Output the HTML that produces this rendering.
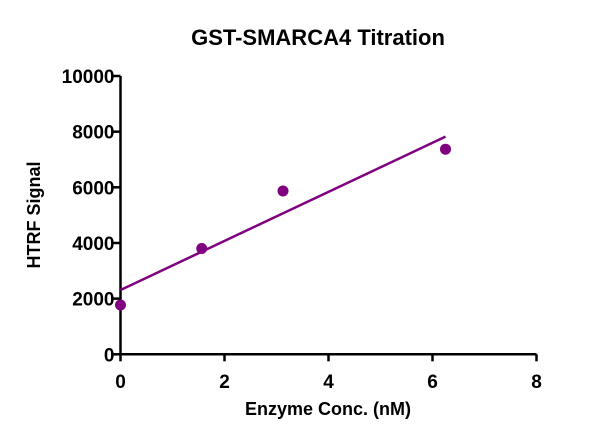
<!DOCTYPE html>
<html><head><meta charset="utf-8"><style>
body{margin:0;background:#fff}
svg text{font-family:"Liberation Sans",Arial,sans-serif;font-weight:bold;fill:#000}
</style></head><body>
<svg id="chart" width="600" height="440" viewBox="0 0 600 440">
<text x="318" y="45" font-size="22" text-anchor="middle">GST-SMARCA4 Titration</text>
<text x="0" y="0" font-size="18" text-anchor="middle" transform="translate(40 215) rotate(-90)">HTRF Signal</text>
<text x="328" y="415" font-size="18" text-anchor="middle">Enzyme Conc. (nM)</text>
<g id="axes"></g><g id="marks"></g>
</svg>
<script>
const xTicks=[0,2,4,6,8];
const yTicks=[0,2000,4000,6000,8000,10000];
const concs=[0,1.5625,3.125,6.25];
const signals=[1770,3800,5870,7370];
const fitX=[0,6.25];
const fitY=[2310,7820];
const NS='http://www.w3.org/2000/svg';
const X=v=>120.5+v*52;
const Y=v=>354.3-v*0.02783;
const axes=document.getElementById('axes'),marks=document.getElementById('marks');
function mk(t,a,p){const e=document.createElementNS(NS,t);for(const k in a)e.setAttribute(k,a[k]);p.appendChild(e);return e;}
let e;
e=mk('line',{x1:X(0),y1:Y(0),x2:X(0),y2:Y(10000),stroke:'#000','stroke-width':2.5},axes);


e=mk('line',{x1:X(0),y1:Y(0),x2:X(8),y2:Y(0),stroke:'#000','stroke-width':2.5},axes);


xTicks.forEach(v=>{
 e=mk('line',{x1:X(v),y1:Y(0),x2:X(v),y2:Y(0)+7,stroke:'#000','stroke-width':2.5},axes);
 
 
 e=mk('text',{x:X(v),y:388,'font-size':19,'text-anchor':'middle'},axes);e.textContent=v;
 
 
});
yTicks.forEach(v=>{
 e=mk('line',{x1:X(0)-7,y1:Y(v),x2:X(0),y2:Y(v),stroke:'#000','stroke-width':2.5},axes);
 
 
 e=mk('text',{x:X(0)-6,y:Y(v)+7,'font-size':19,'text-anchor':'end'},axes);e.textContent=v;
 
 
});
e=mk('line',{x1:X(fitX[0]),y1:Y(fitY[0]),x2:X(fitX[1]),y2:Y(fitY[1]),stroke:'#800080','stroke-width':2.5},marks);


concs.forEach((c,i)=>{
 e=mk('circle',{cx:X(c),cy:Y(signals[i]),r:5.5,fill:'#800080'},marks);
 
 
});
</script>
</body></html>
